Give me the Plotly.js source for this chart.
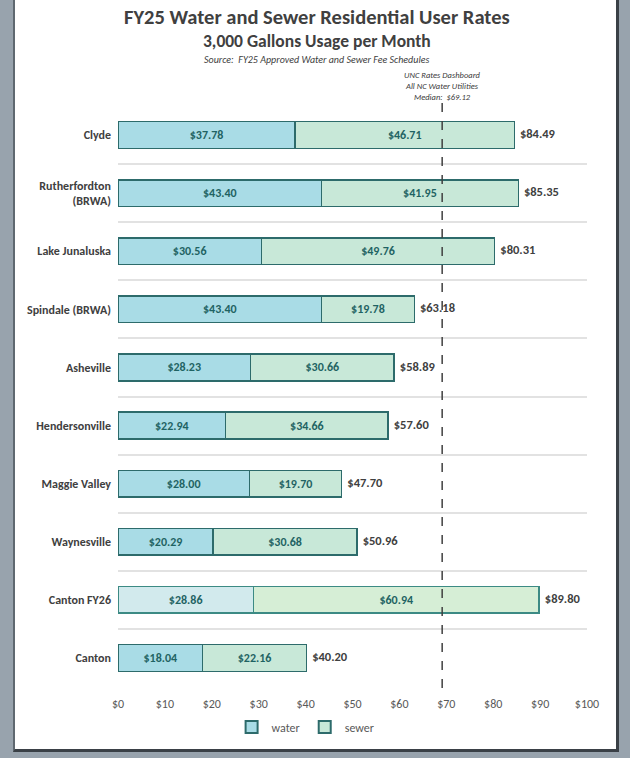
<!DOCTYPE html>
<html>
<head>
<meta charset="utf-8">
<script src="https://cdn.plot.ly/plotly-3.0.1.min.js"></script>
<style>
  html, body { margin: 0; padding: 0; background: #98a3ad; width: 630px; height: 758px; overflow: hidden; }
  #page { position: absolute; left: 13px; top: 0; width: 601px; height: 749px; background: #ffffff;
          border-left: 2px solid #5f6870; border-right: 3px solid #3a4046; border-bottom: 3px solid #3a4046; }
  #chart { width: 601px; height: 749px; }
</style>
</head>
<body>
<div id="page"><div id="chart"></div></div>
<script>
// ---- data ----
const categories = ["Clyde", "Rutherfordton<br>(BRWA)", "Lake Junaluska", "Spindale (BRWA)", "Asheville",
                    "Hendersonville", "Maggie Valley", "Waynesville", "Canton FY26", "Canton"];
const water = [37.78, 43.40, 30.56, 43.40, 28.23, 22.94, 28.00, 20.29, 28.86, 18.04];
const sewer = [46.71, 41.95, 49.76, 19.78, 30.66, 34.66, 19.70, 30.68, 60.94, 22.16];
const totals = [84.49, 85.35, 80.31, 63.18, 58.89, 57.60, 47.70, 50.96, 89.80, 40.20];
const xTickValues = [0, 10, 20, 30, 40, 50, 60, 70, 80, 90, 100];
const xTickLabels = ["$0", "$10", "$20", "$30", "$40", "$50", "$60", "$70", "$80", "$90", "$100"];
const medianValue = 69.12;
const projectedCategory = "Canton FY26";

// ---- styling ----
const FONT = "Carlito, Lato, 'Liberation Sans', sans-serif";
const waterColors = categories.map(c => c === projectedCategory ? "#d2eaed" : "#a9dce6");
const sewerColors = categories.map(c => c === projectedCategory ? "#d6eed6" : "#c8e8d8");
const lineColors = categories.map(c => c === projectedCategory ? "#3c8a84" : "#2d6b6b");

const traces = [
  {
    type: "bar", orientation: "h", name: "water",
    x: water, y: categories,
    marker: { color: waterColors, line: { color: lineColors, width: 1.5 } },
    texttemplate: "<b>$%{x:.2f}</b>", textposition: "inside", insidetextanchor: "middle",
    textfont: { family: FONT, size: 12, color: "#1f6363" }, constraintext: "none",
    hoverinfo: "skip"
  },
  {
    type: "bar", orientation: "h", name: "sewer",
    x: sewer, y: categories,
    marker: { color: sewerColors, line: { color: lineColors, width: 1.5 } },
    texttemplate: "<b>$%{x:.2f}</b>", textposition: "inside", insidetextanchor: "middle",
    textfont: { family: FONT, size: 12, color: "#1f6363" }, constraintext: "none",
    hoverinfo: "skip"
  },
  {
    type: "scatter", mode: "text", showlegend: false,
    x: totals, y: categories,
    text: totals.map(v => "<b>\u00a0\u00a0$" + v.toFixed(2) + "</b>"),
    textposition: "middle right",
    textfont: { family: FONT, size: 12.5, color: "#404040" },
    cliponaxis: false, hoverinfo: "skip"
  }
];

const plotH = 581, plotBottom = 687;
const py = p => (plotBottom - p) / plotH;

const layout = {
  width: 601, height: 749,
  margin: { l: 103, r: 29, t: 106, b: 62, autoexpand: false },
  paper_bgcolor: "#ffffff", plot_bgcolor: "#ffffff",
  font: { family: FONT, color: "#404040" },
  barmode: "stack", bargap: 0.54,
  showlegend: true,
  legend: { orientation: "h", x: 0.40, xanchor: "center", y: py(727), yanchor: "middle",
            font: { family: FONT, size: 12, color: "#595959" }, traceorder: "normal",
            itemwidth: 30, itemsizing: "constant" },
  xaxis: {
    range: [0, 100], tickvals: xTickValues, ticktext: xTickLabels, automargin: false,
    showgrid: false, zeroline: false, showline: false, ticks: "",
    tickfont: { family: FONT, size: 12, color: "#595959" }, ticklabelstandoff: 8
  },
  yaxis: {
    type: "category", autorange: "reversed", tickson: "boundaries", automargin: false,
    showgrid: true, gridcolor: "#e2e2e2", gridwidth: 2,
    zeroline: false, showline: false, ticks: "",
    tickfont: { family: FONT, size: 12, color: "#404040", weight: "bold" }, ticklabelstandoff: 6
  },
  shapes: [
    { type: "line", xref: "x", yref: "paper", x0: medianValue, x1: medianValue,
      y0: py(688), y1: py(100), line: { color: "#404040", width: 1.5, dash: "dash" } }
  ],
  annotations: [
    { xref: "paper", yref: "paper", x: 0.424, y: py(17), xanchor: "center", yanchor: "middle", showarrow: false,
      text: "<b>FY25 Water and Sewer Residential User Rates</b>", font: { family: FONT, size: 20.5, color: "#404040" } },
    { xref: "paper", yref: "paper", x: 0.424, y: py(40.5), xanchor: "center", yanchor: "middle", showarrow: false,
      text: "<b>3,000 Gallons Usage per Month</b>", font: { family: FONT, size: 17.5, color: "#404040" } },
    { xref: "paper", yref: "paper", x: 0.424, y: py(59), xanchor: "center", yanchor: "middle", showarrow: false,
      text: "<i>Source:  FY25 Approved Water and Sewer Fee Schedules</i>", font: { family: FONT, size: 10, color: "#404040" } },
    { xref: "x", yref: "paper", x: medianValue, y: py(86), xanchor: "center", yanchor: "middle", showarrow: false,
      text: "<i>UNC Rates Dashboard<br>All NC Water Utilities<br>Median:  $" + medianValue.toFixed(2) + "</i>",
      font: { family: FONT, size: 8.5, color: "#404040" } }
  ]
};

Plotly.newPlot("chart", traces, layout, { displayModeBar: false, staticPlot: true });
</script>
</body>
</html>
